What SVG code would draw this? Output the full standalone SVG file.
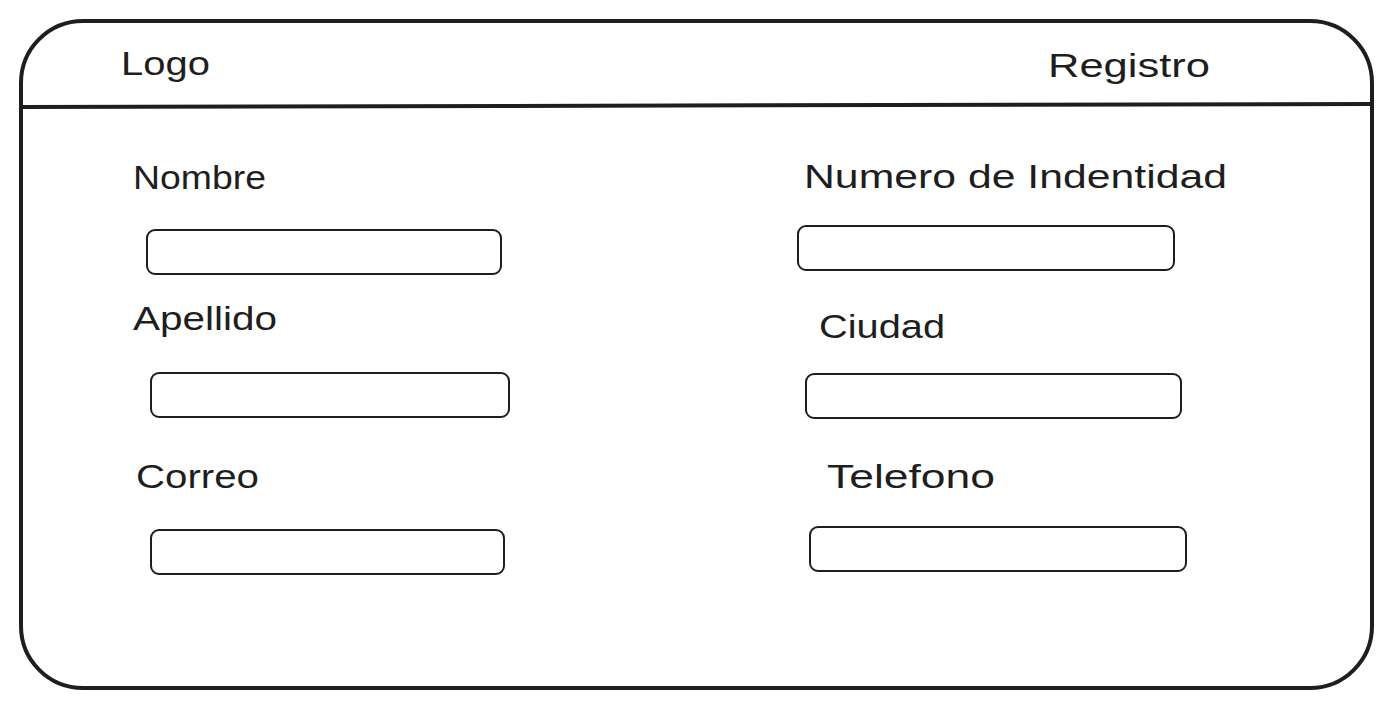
<svg xmlns="http://www.w3.org/2000/svg" width="1392" height="707" viewBox="0 0 1392 707">
<style>
.frame{fill:none;stroke:#1e1e1e;stroke-width:4;stroke-linecap:round;stroke-linejoin:round}
.field{fill:#ffffff;stroke:#1e1e1e;stroke-width:2}
.lbl{font-family:"Liberation Sans","DejaVu Sans",sans-serif;font-size:33px;fill:#1e1e1e}
</style>
<rect width="1392" height="707" fill="#ffffff"/>
<g id="window">
<rect class="frame" x="21" y="21" width="1351" height="667" rx="62" ry="62"/>
<line class="frame" x1="21" y1="107" x2="1372" y2="104"/>
</g>
<g id="connectors"></g>
<g id="logo"><text class="lbl" x="121" y="75" textLength="89" lengthAdjust="spacingAndGlyphs">Logo</text></g>
<g id="registro"><text class="lbl" x="1048" y="77" textLength="162" lengthAdjust="spacingAndGlyphs">Registro</text></g>
<g id="nombre">
<text class="lbl" x="133" y="189" textLength="133" lengthAdjust="spacingAndGlyphs">Nombre</text>
<rect class="field" x="147" y="230" width="354" height="44" rx="8"/>
</g>
<g id="apellido">
<text class="lbl" x="133" y="330" textLength="144" lengthAdjust="spacingAndGlyphs">Apellido</text>
<rect class="field" x="151" y="373" width="358" height="44" rx="8"/>
</g>
<g id="correo">
<text class="lbl" x="136" y="488" textLength="123" lengthAdjust="spacingAndGlyphs">Correo</text>
<rect class="field" x="151" y="530" width="353" height="44" rx="8"/>
</g>
<g id="identidad">
<text class="lbl" x="804" y="188" textLength="423" lengthAdjust="spacingAndGlyphs">Numero de Indentidad</text>
<rect class="field" x="798" y="226" width="376" height="44" rx="8"/>
</g>
<g id="ciudad">
<text class="lbl" x="819" y="338" textLength="126" lengthAdjust="spacingAndGlyphs">Ciudad</text>
<rect class="field" x="806" y="374" width="375" height="44" rx="8"/>
</g>
<g id="telefono">
<text class="lbl" x="827" y="488" textLength="168" lengthAdjust="spacingAndGlyphs">Telefono</text>
<rect class="field" x="810" y="527" width="376" height="44" rx="8"/>
</g>
</svg>
